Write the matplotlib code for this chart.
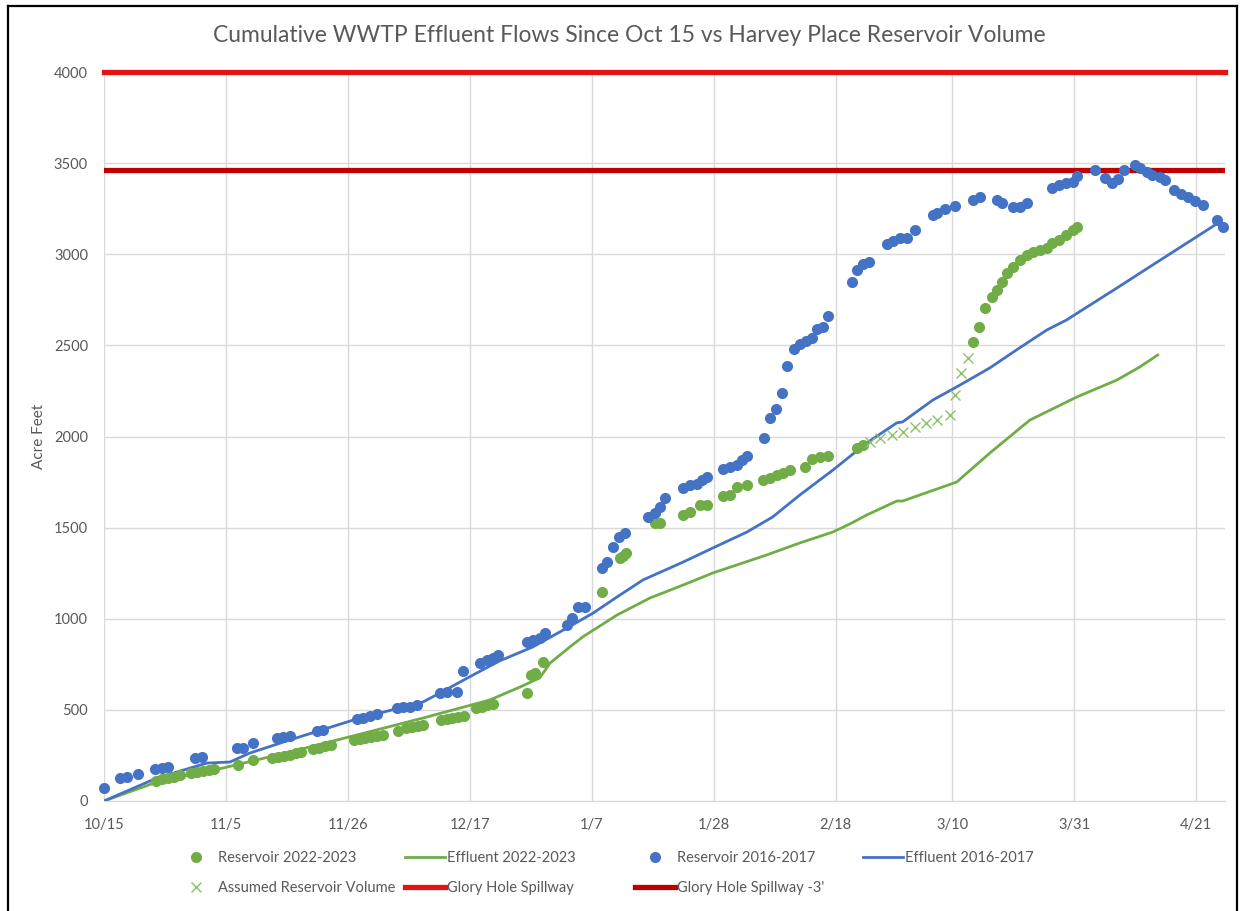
import numpy as np
import matplotlib
matplotlib.use("Agg")
import matplotlib.pyplot as plt
from matplotlib.lines import Line2D

# ---------------- data ----------------
tick_days = [0, 21, 42, 63, 84, 105, 126, 146, 167, 188]
tick_labels = ["10/15", "11/5", "11/26", "12/17", "1/7", "1/28", "2/18", "3/10", "3/31", "4/21"]

res22_days = [9, 10, 11, 12, 13, 15, 16, 17, 18, 19, 23, 25.6,
              29, 30, 31, 32, 33, 34, 36, 37, 38, 39,
              43, 44, 45, 46, 47, 48, 50.6, 52, 53, 54, 55,
              58, 59, 60, 61, 62, 64, 65, 66, 67, 72.8, 73.5, 74.2, 75.6,
              85.7, 88.8, 89.3, 89.8, 94.8, 95.7,
              99.7, 100.9, 102.6, 103.8, 106.5, 107.7, 108.9, 110.7,
              113.4, 114.6, 115.8, 116.9, 118.1, 120.7, 121.9, 123.2, 124.6,
              129.6, 130.6,
              149.6, 150.6, 151.6, 152.8, 153.7, 154.6, 155.4, 156.5, 157.7, 158.9,
              159.9, 161.1, 162.3, 163.3, 164.5, 165.7, 166.8, 167.6]
res22_vals = [112, 120, 127, 133, 140, 152, 158, 164, 170, 176, 198, 225,
              238, 243, 248, 255, 262, 270, 285, 292, 300, 308,
              333, 338, 343, 350, 356, 362, 384, 398, 405, 412, 418,
              445, 450, 455, 460, 466, 510, 518, 525, 532, 592, 690, 705, 762,
              1147, 1333, 1345, 1361, 1525, 1528,
              1569, 1586, 1624, 1625, 1673, 1679, 1723, 1734,
              1761, 1772, 1789, 1800, 1816, 1833, 1877, 1888, 1893,
              1937, 1953,
              2519, 2601, 2705, 2765, 2804, 2848, 2897, 2930, 2968, 2996,
              3012, 3023, 3034, 3062, 3078, 3106, 3133, 3150]

eff22_days = [0, 9.1, 20.5, 32, 43.5, 54.9, 66.4, 71.6, 75, 76.8, 80.2, 82.4, 88.3, 94,
              99.7, 104.8, 114.1, 119.8, 125.5, 128.4, 131.3, 136.5, 137.5, 146.8,
              152.5, 159.4, 167.5, 174.4, 178.3, 181.4]
eff22_vals = [0, 104, 181, 269, 362, 455, 554, 625, 675, 757, 845, 900, 1020, 1114,
              1185, 1251, 1350, 1416, 1476, 1520, 1569, 1646, 1646, 1750,
              1909, 2090, 2217, 2310, 2381, 2447]

res16_days = [0, 2.8, 4, 5.9, 8.8, 10, 11, 15.7, 16.9, 22.9, 23.9, 25.6,
              29.8, 30.8, 32, 36.7, 37.7, 43.5, 44.6, 45.8, 47,
              50.4, 51.5, 52.7, 53.9, 57.8, 59, 60.8, 61.8,
              64.7, 65.9, 67, 67.8, 72.8, 73.8, 75, 75.9, 79.7, 80.6, 81.6, 82.8,
              85.7, 86.6, 87.6, 88.6, 89.7, 93.6, 94.8, 95.7, 96.6,
              99.7, 100.9, 102.1, 102.9, 103.8, 106.5, 107.7, 108.9, 109.8, 110.7,
              113.6, 114.6, 115.7, 116.7, 117.6, 118.8, 119.8, 120.8, 121.9, 122.7,
              123.8, 124.6, 128.7, 129.6, 130.6, 131.7, 134.8, 135.8, 137, 138.2,
              139.6, 142.7, 143.5, 144.8, 146.6, 149.6, 150.8, 153.7, 154.6,
              156.5, 157.7, 158.9, 163.3, 164.5, 165.7, 166.8, 167.5, 170.6,
              172.3, 173.5, 174.5, 175.6, 177.5, 178.3, 179.5, 180.5, 181.8, 182.6,
              184.3, 185.5, 186.6, 187.8, 189.2, 191.6, 192.6]
res16_vals = [71, 126, 132, 148, 176, 181, 187, 236, 241, 291, 291, 318,
              346, 351, 357, 384, 390, 450, 455, 466, 477,
              510, 516, 516, 527, 593, 598, 598, 713,
              757, 774, 785, 801, 872, 883, 894, 922, 966, 1004, 1064, 1064,
              1278, 1311, 1394, 1449, 1471, 1558, 1580, 1613, 1663,
              1717, 1734, 1739, 1761, 1778, 1822, 1833, 1844, 1871, 1893,
              1992, 2102, 2151, 2239, 2387, 2480, 2508, 2524, 2541, 2590,
              2601, 2661, 2848, 2914, 2946, 2957, 3056, 3073, 3089, 3089,
              3133, 3215, 3226, 3248, 3265, 3298, 3314, 3298, 3281,
              3259, 3259, 3281, 3364, 3380, 3391, 3397, 3429, 3462,
              3418, 3391, 3413, 3462, 3490, 3473, 3451, 3435, 3424, 3407,
              3352, 3331, 3314, 3292, 3270, 3188, 3150]

eff16_days = [0, 9.1, 17.7, 21.7, 25.1, 32, 43.5, 54.9, 57.8, 63.5, 68.2, 73.8,
              79.7, 84.2, 88.3, 92.8, 99.7, 104.8, 110.7, 115.1, 119.8, 125.5,
              131.3, 136.5, 137.5, 142.7, 146.8, 152.5, 157.1, 162.3, 165.7,
              174.4, 180, 191.5]
eff16_vals = [0, 126, 208, 214, 263, 335, 450, 543, 592, 691, 770, 845,
              949, 1031, 1119, 1213, 1311, 1388, 1476, 1558, 1679, 1816,
              1964, 2075, 2080, 2200, 2272, 2376, 2475, 2584, 2639,
              2815, 2930, 3165]

assumed_days = [131.8, 133.6, 135.6, 137.5, 139.6, 141.6, 143.5, 145.6, 146.6, 147.6, 148.7]
assumed_vals = [1970, 1992, 2008, 2025, 2052, 2074, 2091, 2118, 2228, 2348, 2431]

glory_hole = 4000
glory_hole_minus3 = 3460

# ---------------- style ----------------
GREEN = "#70AD47"
BLUE = "#4472C4"
XGREEN = "#8DC26B"
RED = "#E41414"
DRED = "#C00000"
GRID = "#D9D9D9"
TXT = "#595959"
FONT = ["Lato", "DejaVu Sans"]
plt.rcParams["font.family"] = FONT

W, H = 1259, 911
fig = plt.figure(figsize=(W / 100, H / 100), dpi=100)
fig.patch.set_facecolor("white")

L, R, T, B = 104, 1225, 72, 801
ax = fig.add_axes([L / W, 1 - B / H, (R - L) / W, (B - T) / H])

ax.set_xlim(0, 193)
ax.set_ylim(0, 4000)
ax.set_xticks(tick_days)
ax.set_xticklabels(tick_labels)
ax.set_yticks(np.arange(0, 4001, 500))
ax.grid(True, color=GRID, linewidth=1.0)
ax.set_axisbelow(True)
for s in ["top", "right", "left"]:
    ax.spines[s].set_visible(False)
ax.spines["bottom"].set_color(GRID)
ax.tick_params(axis="both", length=0, colors=TXT, labelsize=10.5)
ax.tick_params(axis="x", pad=12)
ax.tick_params(axis="y", pad=11.5)
ax.set_ylabel("Acre Feet", color=TXT, fontsize=11)
ax.yaxis.set_label_coords(-0.052, 0.5)

h_e22, = ax.plot(eff22_days, eff22_vals, color=GREEN, lw=2.0, zorder=3, label="Effluent 2022-2023")
h_e16, = ax.plot(eff16_days, eff16_vals, color=BLUE, lw=2.0, zorder=3, label="Effluent 2016-2017")
h_g = ax.axhline(glory_hole, color=RED, lw=3.8, zorder=2, clip_on=False, label="Glory Hole Spillway")
h_g3 = ax.axhline(glory_hole_minus3, color=DRED, lw=3.8, zorder=2, label="Glory Hole Spillway -3'")
h_r22, = ax.plot(res22_days, res22_vals, "o", color=GREEN, ms=8, mec="none", zorder=4,
                 label="Reservoir 2022-2023")
h_r16, = ax.plot(res16_days, res16_vals, "o", color=BLUE, ms=8, mec="none", zorder=4,
                 clip_on=False, label="Reservoir 2016-2017")
h_as, = ax.plot(assumed_days, assumed_vals, "x", color=XGREEN, ms=7, mew=1.0, zorder=4,
                label="Assumed Reservoir Volume")

fig.text(0.5, 1 - 36 / H, "Cumulative WWTP Effluent Flows Since Oct 15 vs Harvey Place Reservoir Volume",
         ha="center", va="center", fontsize=16.5, color=TXT)

# legend: four columns at fixed positions
cols = [(176, [h_r22, h_as]), (405, [h_e22, h_g]), (635, [h_r16, h_g3]), (863, [h_e16])]
for x0, hs in cols:
    leg = fig.legend(handles=hs, labels=[h.get_label() for h in hs],
                     loc="upper left", bbox_to_anchor=(x0 / W, 1 - 851 / H),
                     frameon=False, fontsize=10.5, handlelength=2.74, handletextpad=0.15,
                     labelspacing=1.07, borderpad=0, borderaxespad=0)
    for t in leg.get_texts():
        t.set_color(TXT)

# outer frame (left, top, right)
fr = dict(color="black", lw=1.6, transform=fig.transFigure)
fig.add_artist(Line2D([8 / W, 8 / W], [0, 1 - 6 / H], **fr))
fig.add_artist(Line2D([8 / W, 1237 / W], [1 - 6 / H, 1 - 6 / H], **fr))
fig.add_artist(Line2D([1237 / W, 1237 / W], [0, 1 - 6 / H], **fr))

fig.savefig("out.png", dpi=100)
